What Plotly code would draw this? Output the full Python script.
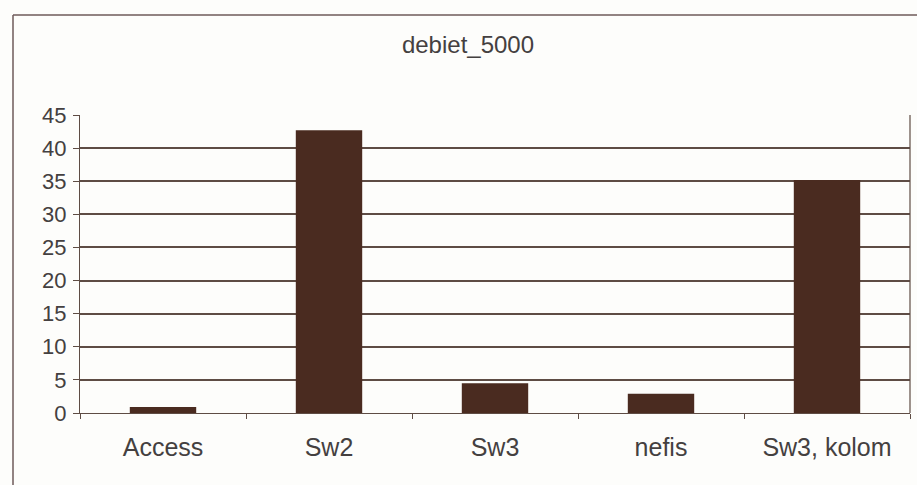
import plotly.graph_objects as go

# Debit timings per implementation
categories = ["Access", "Sw2", "Sw3", "nefis", "Sw3, kolom"]
values = [0.9, 42.7, 4.5, 2.9, 35.2]
y_ticks = [0, 5, 10, 15, 20, 25, 30, 35, 40, 45]

W, H = 917, 485
ml, mr, mt, mb = 80, 7, 115, 72
plot_w = W - ml - mr
plot_h = H - mt - mb

fig = go.Figure(
    go.Bar(
        x=categories,
        y=values,
        marker=dict(color="#4a2b20", line=dict(width=0)),
        width=0.4,
    )
)

grid_col = "#5e4c44"
text_col = "#444040"
fig.update_layout(
    width=W,
    height=H,
    margin=dict(l=ml, r=mr, t=mt, b=mb),
    paper_bgcolor="#fdfdfb",
    plot_bgcolor="#fdfdfb",
    font=dict(family="Liberation Sans, Arial, sans-serif", color=text_col),
    title=dict(
        text="debiet_5000",
        x=(468 - ml) / plot_w,
        xref="paper",
        xanchor="center",
        y=1 - 45 / H,
        yanchor="middle",
        font=dict(size=24, color=text_col),
    ),
    showlegend=False,
    bargap=0.6,
)

fig.update_xaxes(
    showgrid=False,
    showline=True,
    linecolor=grid_col,
    linewidth=1,
    mirror=False,
    ticks="outside",
    ticklen=5,
    tickcolor=grid_col,
    tickson="boundaries",
    tickfont=dict(size=25, color=text_col),
    ticklabelstandoff=12,
)
fig.update_yaxes(
    range=[0, 45],
    tickvals=y_ticks,
    showgrid=True,
    gridcolor=grid_col,
    gridwidth=1.5,
    showline=True,
    linecolor=grid_col,
    linewidth=1,
    ticks="outside",
    ticklen=6,
    tickcolor=grid_col,
    tickfont=dict(size=22, color=text_col),
    ticklabelstandoff=2,
    zeroline=False,
)

# Plot area right edge and outer chart frame (left and top sides)
frame_col = "#6e5a5a"
fig.add_shape(type="line", xref="paper", yref="paper", x0=1, x1=1, y0=0, y1=1,
              line=dict(color=grid_col, width=1.2))
fx = (13 - ml) / plot_w
fy = 1 + (mt - 15) / plot_h
fig.add_shape(type="line", xref="paper", yref="paper", x0=fx, x1=fx, y0=-mb / plot_h - 0.1, y1=fy,
              line=dict(color=frame_col, width=1.5))
fig.add_shape(type="line", xref="paper", yref="paper", x0=fx, x1=1.2, y0=fy, y1=fy,
              line=dict(color=frame_col, width=1.5))

fig.write_html("out.html")
